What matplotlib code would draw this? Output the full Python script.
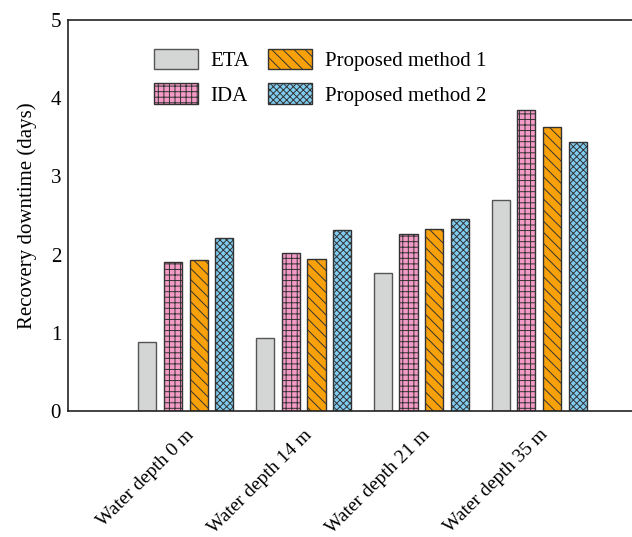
import numpy as np
import matplotlib
matplotlib.use("Agg")
from matplotlib import pyplot as plt

categories = ["Water depth 0 m", "Water depth 14 m", "Water depth 21 m", "Water depth 35 m"]
methods = ["ETA", "IDA", "Proposed method 1", "Proposed method 2"]
eta = [0.88, 0.93, 1.76, 2.70]
ida = [1.90, 2.02, 2.26, 3.85]
pm1 = [1.93, 1.94, 2.33, 3.63]
pm2 = [2.21, 2.31, 2.45, 3.44]

colors = ["#d4d6d5", "#f49ac6", "#f9a10a", "#7fcdf1"]
hatches = ["", "+++", "\\\\\\", "xxxxx"]
edges = ["#555555", "#333333", "#333333", "#333333"]

plt.rcParams["font.family"] = ["Liberation Serif", "DejaVu Serif"]
plt.rcParams["hatch.linewidth"] = 0.7

fig = plt.figure(figsize=(6.32, 5.37), dpi=100)
ax = fig.add_axes([68/632, 126/537, 589/632, 391/537])

x = np.arange(len(categories))
width = 0.155
pitch = 0.218
offsets = (np.arange(4) - 1.5) * pitch
for i, vals in enumerate([eta, ida, pm1, pm2]):
    ax.bar(x + offsets[i], vals, width, color=colors[i], edgecolor=edges[i],
           hatch=hatches[i], linewidth=1.0, label=methods[i])

ax.set_xlim(-1.0, 4.0)
ax.set_ylim(0, 5)
ax.set_yticks(range(6))
ax.set_xticks(x)
ax.set_xticklabels(categories, rotation=45, ha="right", rotation_mode="anchor")
ax.tick_params(axis="y", length=0, labelsize=15, pad=5)
ax.tick_params(axis="x", length=0, labelsize=14, pad=11)
ax.set_ylabel("Recovery downtime (days)", fontsize=15, labelpad=10)
for s in ax.spines.values():
    s.set_linewidth(1.2)
    s.set_color("#222222")

ax.legend(ncol=2, frameon=False, fontsize=15, loc="upper left",
          bbox_to_anchor=(0.115, 0.975), handlelength=2.1, handleheight=1.15,
          columnspacing=0.9, labelspacing=0.6, handletextpad=0.6)

fig.savefig("out.png", dpi=100)
